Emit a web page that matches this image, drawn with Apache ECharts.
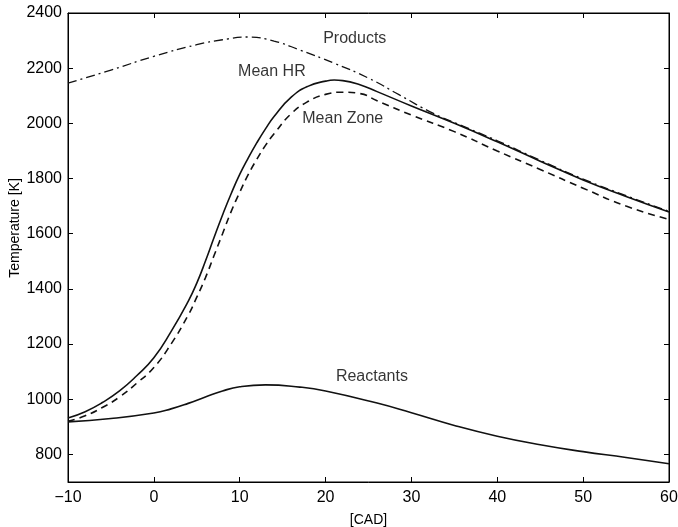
<!DOCTYPE html>
<html><head><meta charset="utf-8">
<script src="https://cdn.jsdelivr.net/npm/echarts@6/dist/echarts.min.js"></script>
<style>html,body{margin:0;padding:0;background:#fff}#c{width:678px;height:527px}</style>
</head><body><div id="c"></div>
<script>
// ---- data ----
const hrX   = [-10,-8,-6,-4,-2,0,2,4,5,6,7,8,9,10,11,12,13,14,16,18,20,21,22,24,26,30,35,40,45,50,55,60];
const hrY   = [932,955,988,1030,1085,1150,1245,1355,1421,1500,1585,1668,1745,1815,1875,1930,1980,2025,2095,2135,2153,2157,2155,2140,2115,2063,2000,1933,1863,1795,1735,1679];
const zoneX = [-10,-8,-6,-4,-2,0,2,4,5,6,7,8,9,10,11,12,13,14,16,18,20,22,24,26,30,35,40,45,50,55,60];
const zoneY = [920,940,970,1008,1058,1115,1200,1305,1370,1440,1520,1600,1680,1750,1815,1870,1920,1962,2035,2080,2105,2113,2108,2082,2030,1970,1900,1833,1765,1700,1652];
const prodX = [-10,-5,0,5,8,11,14,17,21,25,28.6,32.5,36,40,45,50,55,60];
const prodY = [2146,2193,2243,2285,2303,2313,2298,2266,2218,2164,2103,2037,1990,1937,1866,1798,1738,1681];
const reacX = [-10,-5,0,2,4,6,8,10,13,17,20,26,30,35,40,45,50,55,60];
const reacY = [918,930,950,965,985,1008,1030,1045,1052,1044,1030,986,951,905,866,835,810,789,766];
const xTicks = [-10,0,10,20,30,40,50,60];
const yTicks = [800,1000,1200,1400,1600,1800,2000,2200,2400];
const labelNames = ['Products','Mean HR','Mean Zone','Reactants'];
const labelX = [23.4,13.75,22.0,25.4];
const labelY = [2309,2186,2019,1081];
const yAxisTitle = 'Temperature [K]';
const xAxisTitle = '[CAD]';

const pair = (xs, ys) => xs.map((x, i) => [x, ys[i]]);
const FONT = 'Liberation Sans, Arial, Helvetica, sans-serif';
const xFmt = v => String(v).replace('-', '\u2212');
const yFmt = v => String(v);

const chart = echarts.init(document.getElementById('c'), null, {renderer: 'canvas'});
const axisCommon = {
  axisLine: {show: true, onZero: false, lineStyle: {color: '#000', width: 1}},
  splitLine: {show: false}
};
const lineCommon = {type: 'line', smooth: 0.5, symbol: 'none'};
chart.setOption({
  animation: false,
  backgroundColor: '#fff',
  grid: {left: 68, right: 9, top: 13, bottom: 45, containLabel: false, outerBoundsMode: 'none',
    show: true, borderColor: '#000', borderWidth: 1},
  graphic: [{
    type: 'text', x: 15, y: 228, rotation: Math.PI / 2,
    style: {text: yAxisTitle, fontFamily: FONT, fontSize: 14, fill: '#000',
      align: 'center', verticalAlign: 'middle'}
  }],
  xAxis: [
    Object.assign({type: 'value', min: -10, max: 60, interval: 10, position: 'bottom',
      name: xAxisTitle, nameLocation: 'middle', nameGap: 31, nameMoveOverlap: false,
      nameTextStyle: {fontFamily: FONT, fontSize: 14, color: '#000'},
      axisTick: {inside: true, length: 5, customValues: xTicks, lineStyle: {color: '#000'}},
      axisLabel: {customValues: xTicks, formatter: xFmt, fontFamily: FONT, fontSize: 16, color: '#000', margin: 8}
    }, axisCommon),
    Object.assign({type: 'value', min: -10, max: 60, interval: 10, position: 'top',
      axisTick: {inside: true, length: 5, customValues: xTicks, lineStyle: {color: '#000'}},
      axisLabel: {show: false}
    }, axisCommon)
  ],
  yAxis: [
    Object.assign({type: 'value', min: 700, max: 2400, position: 'left',
      axisTick: {inside: true, length: 5, customValues: yTicks, lineStyle: {color: '#000'}},
      axisLabel: {customValues: yTicks, formatter: yFmt, fontFamily: FONT, fontSize: 16, color: '#000', margin: 6}
    }, axisCommon),
    Object.assign({type: 'value', min: 700, max: 2400, position: 'right',
      axisTick: {inside: true, length: 5, customValues: yTicks, lineStyle: {color: '#000'}},
      axisLabel: {show: false}
    }, axisCommon)
  ],
  series: [
    Object.assign({name: 'Mean HR', data: pair(hrX, hrY),
      lineStyle: {color: '#111', width: 1.6, type: 'solid'}}, lineCommon),
    Object.assign({name: 'Mean Zone', data: pair(zoneX, zoneY),
      lineStyle: {color: '#111', width: 1.6, type: [7, 5]}}, lineCommon),
    Object.assign({name: 'Products', data: pair(prodX, prodY),
      lineStyle: {color: '#111', width: 1.3, type: [9, 4, 2, 4]}}, lineCommon),
    Object.assign({name: 'Reactants', data: pair(reacX, reacY),
      lineStyle: {color: '#111', width: 1.6, type: 'solid'}}, lineCommon),
    {name: 'labels', type: 'scatter', symbolSize: 0, silent: true,
      data: labelNames.map((n, i) => ({name: n, value: [labelX[i], labelY[i]]})),
      label: {show: true, position: 'inside', formatter: p => p.name,
        fontFamily: FONT, fontSize: 16, color: '#000'}}
  ]
});
</script></body></html>
